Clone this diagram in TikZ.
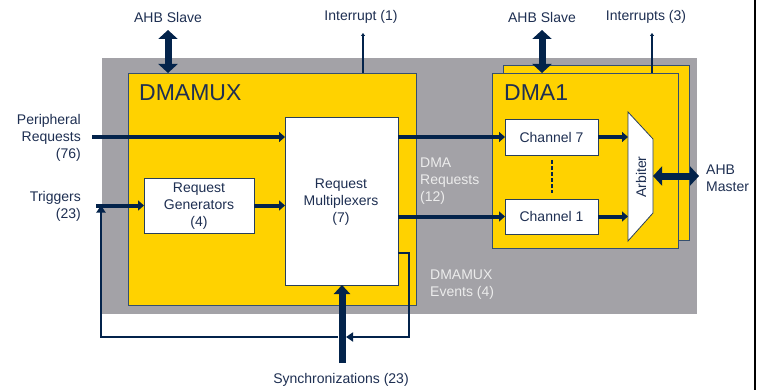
\documentclass[tikz,border=0pt]{standalone}
\usepackage{fontspec}
\setmainfont{Liberation Sans}
\usetikzlibrary{arrows.meta}
\definecolor{navy}{HTML}{03234B}
\definecolor{txt}{HTML}{1E2F52}
\definecolor{stgray}{HTML}{A3A2A7}
\definecolor{styellow}{HTML}{FFD200}
\definecolor{lighttxt}{HTML}{ECECEC}
\tikzset{
  box/.style={anchor=north west, inner sep=0pt, outer sep=0pt},
  ybox/.style={box, fill=styellow, draw=navy!80, line width=0.8pt},
  wbox/.style={box, fill=white, draw=navy!70!gray, line width=0.8pt},
  lbl/.style={text=txt, font=\fontsize{14}{17}\selectfont, inner sep=0pt, align=center},
  title/.style={text=txt, font=\fontsize{23}{26}\selectfont, inner sep=0pt, anchor=west},
  bus/.style={draw=navy, line width=4pt, -{Triangle[length=6pt,width=10pt]}},
  fat/.style={draw=navy, line width=7pt, {Triangle[length=9pt,width=19pt]}-{Triangle[length=9pt,width=19pt]}},
  fatin/.style={draw=navy, line width=7pt, -{Triangle[length=9pt,width=16pt]}},
  thinout/.style={draw=navy, line width=1.3pt, -{Triangle[length=3pt,width=4pt]}},
  loop/.style={draw=navy, line width=2pt, -{Triangle[length=7pt,width=9pt]}},
}
\begin{document}
\begin{tikzpicture}[x=1pt,y=-1pt]
\useasboundingbox[fill=white] (0,0) rectangle (759,390);
\draw[black, line width=1.5pt] (755,0) -- (755,390);

% backgrounds
\node[box, fill=stgray, minimum width=595pt, minimum height=256pt] (bg) at (102,58) {};
\node[ybox, minimum width=288pt, minimum height=232pt] (dmamux) at (128,73) {};
\node[ybox, minimum width=186pt, minimum height=175pt] (dmaback) at (503,65) {};
\node[ybox, minimum width=186pt, minimum height=175pt] (dma) at (492,73) {};

% inner boxes
\node[wbox, minimum width=113pt, minimum height=168pt] (mux) at (285,117) {};
\node[wbox, minimum width=110pt, minimum height=55pt] (gen) at (144,178) {};
\node[wbox, minimum width=93pt, minimum height=36pt] (ch7) at (505,119) {};
\node[wbox, minimum width=93pt, minimum height=35pt] (ch1) at (505,199) {};
\node[box, minimum width=25pt, minimum height=129pt] (arb) at (628,112) {};
\draw[fill=white, draw=navy!70!gray, line width=0.8pt]
  (arb.north west) -- ([yshift=-27pt]arb.north east) -- ([yshift=28pt]arb.south east) -- (arb.south west) -- cycle;

% titles and box texts
\node[title] (tmux) at (139,93) {DMAMUX};
\node[title] (tdma) at (504,93) {DMA1};
\node[lbl] (tgen) at (199,206) {Request\\Generators\\(4)};
\node[lbl] (tmuxl) at (341,202) {Request\\Multiplexers\\(7)};
\node[lbl] (tch7) at (ch7.center) {Channel 7};
\node[lbl] (tch1) at (ch1.center) {Channel 1};
\node[lbl, rotate=90] (tarb) at (641,177) {Arbiter};

% outside labels
\node[lbl] (lslave1) at (168,17) {AHB Slave};
\node[lbl] (lirq1) at (361,17) {Interrupt (1)};
\node[lbl] (lslave2) at (542,17) {AHB Slave};
\node[lbl] (lirq3) at (646,17) {Interrupts (3)};
\node[lbl, anchor=east, align=right] (lper) at (81,138) {Peripheral\\Requests\\(76)};
\node[lbl, anchor=east, align=right] (ltrig) at (81,206) {Triggers\\(23)};
\node[lbl, anchor=west, align=left] (lmaster) at (706,178) {AHB\\Master};
\node[lbl] (lsync) at (341,380) {Synchronizations (23)};
\node[lbl, anchor=west, align=left, text=lighttxt] (ldmareq) at (420,181) {DMA\\Requests\\(12)};
\node[lbl, anchor=west, align=left, text=lighttxt] (lev) at (430,285) {DMAMUX\\Events (4)};

% coordinates for free ends
\coordinate (per) at (92,137);
\coordinate (trig) at (96,205.5);
\coordinate (s1) at (168,30);
\coordinate (irq1) at (363,33);
\coordinate (s2) at (542,30);
\coordinate (irq3) at (652,33);
\coordinate (master) at (699,176);
\coordinate (sync) at (342,363);
\coordinate (muxev) at (398,253);
\coordinate (fbR) at (409,337);
\coordinate (fbTip) at (346,337);
\coordinate (fbL) at (101,337);
\coordinate (fbJ) at (338,337);
\coordinate (dashT) at (552,160);
\coordinate (dashB) at (552,193);

% connectors
\draw[bus] (per) -- (per -| mux.west);
\draw[bus] (trig) -- (gen.west);
\draw[bus] (gen.east) -- (gen.east -| mux.west);
\draw[bus] (mux.east |- ch7.west) -- (ch7.west);
\draw[bus] (mux.east |- ch1.west) -- (ch1.west);
\draw[bus] (ch7.east) -- (ch7.east -| arb.west);
\draw[bus] (ch1.east) -- (ch1.east -| arb.west);
\draw[draw=navy, line width=1.2pt, dash pattern=on 4pt off 2pt] (dashT) -- (dashB);

\draw[fat] (s1) -- (s1 |- dmamux.north);
\draw[fat] (s2) -- (s2 |- dma.north);
\draw[fat] (arb.east |- master) -- (master);
\draw[thinout] (irq1 |- dmamux.north) -- (irq1);
\draw[thinout] (irq3 |- dma.north) -- (irq3);

\draw[loop] (muxev) -| (fbR) -- (fbTip);
\draw[loop] (fbJ) -- (fbL) -- (fbL |- trig);
\draw[fatin] (sync) -- (sync |- mux.south);
\end{tikzpicture}
\end{document}
